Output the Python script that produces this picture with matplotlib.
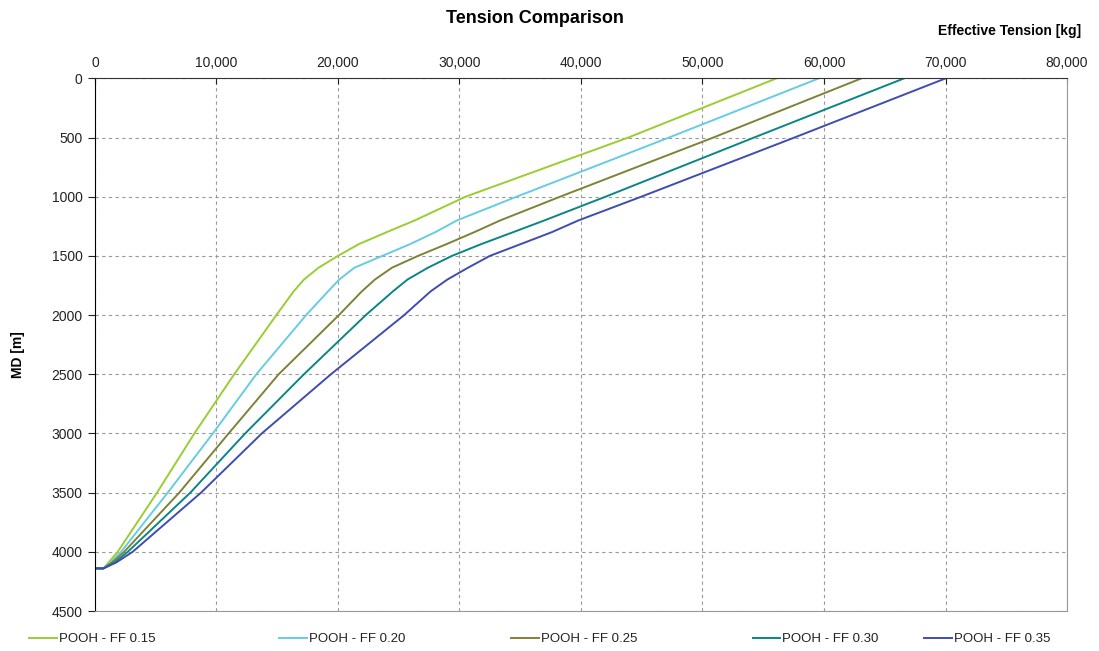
import matplotlib
import matplotlib.pyplot as plt
from matplotlib.ticker import FuncFormatter, MultipleLocator

matplotlib.use("Agg")
plt.rcParams["font.family"] = ["Liberation Sans", "DejaVu Sans"]

# depth stations [m] shared by all runs (last two close off the flat bottom)
md = [0, 500, 1000, 1200, 1300, 1400, 1500, 1600, 1700, 1800, 2000,
      2500, 3000, 3500, 4000, 4090, 4140, 4140]

# effective tension [kg] at each station
ff_015 = [56100, 43900, 30500, 26330, 24000, 21730, 20000, 18400, 17200,
          16350, 14930, 11460, 8180, 5110, 1870, 1120, 700, 0]
ff_020 = [59590, 47250, 34700, 29800, 28000, 25950, 23650, 21350, 20100,
          19180, 17380, 13280, 9700, 5990, 2150, 1300, 700, 0]
ff_025 = [63090, 50900, 38280, 33360, 31210, 28950, 26590, 24440, 23040,
          21960, 20080, 15120, 11000, 6940, 2400, 1400, 700, 0]
ff_030 = [66600, 54250, 42020, 37000, 34410, 31800, 29380, 27400, 25720,
          24520, 22290, 17200, 12360, 7850, 2700, 1600, 700, 0]
ff_035 = [70020, 57570, 44960, 39800, 37590, 35050, 32500, 30700, 29000,
          27620, 25450, 19420, 13730, 8730, 3100, 1750, 700, 0]

labels = ["POOH - FF 0.15", "POOH - FF 0.20", "POOH - FF 0.25",
          "POOH - FF 0.30", "POOH - FF 0.35"]
colors = ["#9acd32", "#66cde0", "#7f8236", "#0b8585", "#3f4db0"]

fig = plt.figure(figsize=(10.99, 6.51), dpi=100)
ax = fig.add_axes([0.0864, 0.0614, 0.8845, 0.8183])

lines = []
for t, lab, c in zip([ff_015, ff_020, ff_025, ff_030, ff_035], labels, colors):
    ln, = ax.plot(t, md, color=c, lw=1.4, label=lab)
    lines.append(ln)

ax.set_xlim(0, 80000)
ax.set_ylim(4500, 0)
ax.xaxis.set_major_locator(MultipleLocator(10000))
ax.yaxis.set_major_locator(MultipleLocator(500))
ax.xaxis.set_major_formatter(FuncFormatter(lambda v, p: f"{int(v):,}"))
ax.xaxis.tick_top()
ax.tick_params(axis="x", direction="in", length=4, labelsize=10, pad=6,
               colors="#222222")
ax.tick_params(axis="y", direction="out", length=5, labelsize=10, pad=4,
               colors="#222222")

ax.grid(True, color="#999999", ls=(0, (3, 3)), lw=0.8)
ax.spines["left"].set_color("black")
ax.spines["top"].set_color("#333333")
ax.spines["right"].set_color("#999999")
ax.spines["bottom"].set_color("#999999")

fig.text(0.487, 0.972, "Tension Comparison", ha="center", va="center",
         fontsize=13, fontweight="bold")
fig.text(0.919, 0.953, "Effective Tension [kg]", ha="center", va="center",
         fontsize=10, fontweight="bold")
fig.text(0.016, 0.455, "MD [m]", ha="center", va="center", rotation=90,
         fontsize=10, fontweight="bold")

# legend entries sit at uneven spacing in the original, one legend per entry
leg_x = [0.0215, 0.249, 0.460, 0.680, 0.836]
for ln, lab, x in zip(lines, labels, leg_x):
    leg = fig.legend([ln], [lab], loc="center left", bbox_to_anchor=(x, 0.018),
                     frameon=False, fontsize=9.5, handlelength=2.1,
                     handletextpad=0.15, borderaxespad=0)
    for txt in leg.get_texts():
        txt.set_color("#222222")

fig.savefig("out.png", dpi=100)
